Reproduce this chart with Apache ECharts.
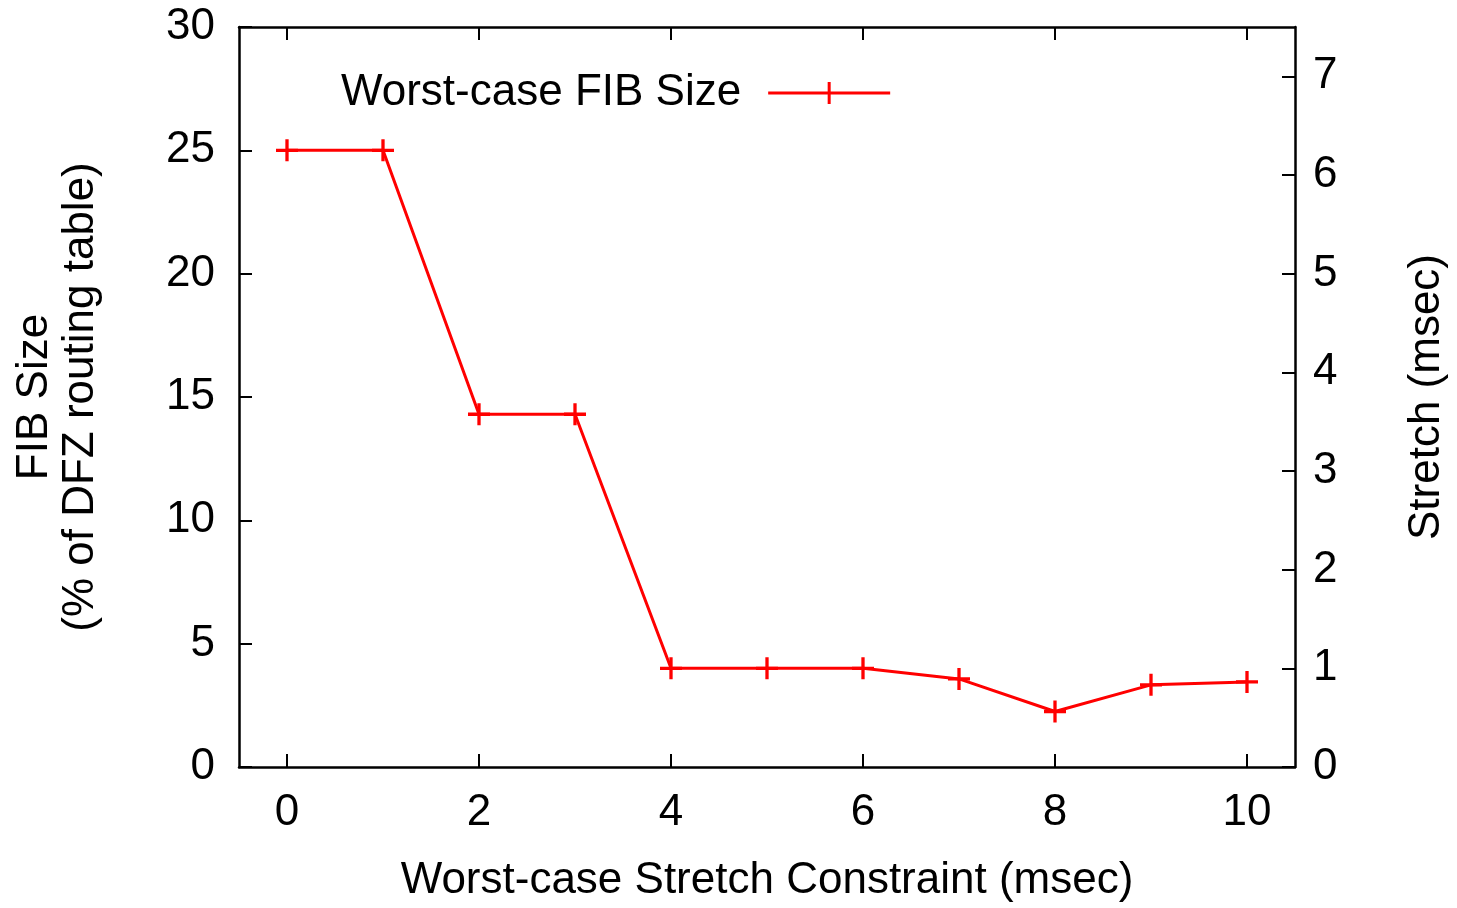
<!DOCTYPE html>
<html>
<head>
<meta charset="utf-8">
<script src="https://cdn.jsdelivr.net/npm/echarts@6/dist/echarts.min.js"></script>
<style>
html,body{margin:0;padding:0;background:#fff;overflow:hidden;width:100%;height:100%;}
#chart{width:100vw;height:100vh;}
</style>
</head>
<body>
<div id="chart"></div>
<script>
// Data
var xValues = [0, 1, 2, 3, 4, 5, 6, 7, 8, 9, 10];
var fibSize = [25, 25, 14.3, 14.3, 4.0, 4.0, 4.0, 3.57, 2.25, 3.33, 3.45];
var xTicks = [0, 2, 4, 6, 8, 10];
var yLeftTicks = [0, 5, 10, 15, 20, 25, 30];
var yRightTicks = [0, 1, 2, 3, 4, 5, 6, 7];
var seriesName = 'Worst-case FIB Size';
var xTitle = 'Worst-case Stretch Constraint (msec)';
var yLeftTitle = 'FIB Size\n(% of DFZ routing table)';
var yRightTitle = 'Stretch (msec)';

var FONT = 'Liberation Sans, Arial, Helvetica, sans-serif';
var FS = 44;
var plusPath = 'path://M-1.5,-10 L1.5,-10 L1.5,10 L-1.5,10 Z M-10,-1.5 L10,-1.5 L10,1.5 L-10,1.5 Z';
var legendIcon = 'path://M0,9.5 L122,9.5 L122,12.5 L0,12.5 Z M59.5,0 L62.5,0 L62.5,22 L59.5,22 Z';

var el = document.getElementById('chart');
var W = el.clientWidth || 1457, H = el.clientHeight || 908;
var sx = W / 1457, sy = H / 908;

var chart = echarts.init(el, null, {renderer: 'canvas'});
var axisLineStyle = {color: '#000', width: 2.5};
var tickStyle = {color: '#000', width: 2};
chart.setOption({
  animation: false,
  backgroundColor: '#fff',
  grid: {left: 239 * sx, top: 27 * sy, width: 1058 * sx, height: 745 * sy, containLabel: false},
  legend: {
    show: true,
    left: 336 * sx,
    top: 66 * sy,
    align: 'right',
    itemWidth: 122,
    itemHeight: 22,
    icon: legendIcon,
    textStyle: {fontFamily: FONT, fontSize: FS, color: '#000', padding: [0, 22, 0, 0]},
    data: [{name: seriesName, icon: legendIcon}]
  },
  xAxis: [{
    type: 'value', position: 'bottom', min: -0.5, max: 10.5,
    splitLine: {show: false},
    axisLine: {show: true, onZero: false, lineStyle: axisLineStyle},
    axisTick: {show: true, inside: true, length: 13, lineStyle: tickStyle, customValues: xTicks},
    axisLabel: {fontFamily: FONT, fontSize: FS, color: '#000', margin: 24 * sy, customValues: xTicks},
    name: xTitle, nameLocation: 'middle', nameGap: 92 * sy,
    nameTextStyle: {fontFamily: FONT, fontSize: FS, color: '#000'}
  }, {
    type: 'value', position: 'top', min: -0.5, max: 10.5,
    splitLine: {show: false},
    axisLine: {show: true, onZero: false, lineStyle: axisLineStyle},
    axisTick: {show: true, inside: true, length: 13, lineStyle: tickStyle, customValues: xTicks},
    axisLabel: {show: false}
  }],
  yAxis: [{
    type: 'value', position: 'left', min: 0, max: 30,
    splitLine: {show: false},
    axisLine: {show: true, onZero: false, lineStyle: axisLineStyle},
    axisTick: {show: true, inside: true, length: 13, lineStyle: tickStyle, customValues: yLeftTicks},
    axisLabel: {fontFamily: FONT, fontSize: FS, color: '#000', margin: 24 * sx, customValues: yLeftTicks},
    name: yLeftTitle, nameLocation: 'middle', nameRotate: 90, nameGap: 135 * sx,
    nameTextStyle: {fontFamily: FONT, fontSize: FS, color: '#000', lineHeight: 46}
  }, {
    type: 'value', position: 'right', min: 0, max: 7.5,
    splitLine: {show: false},
    axisLine: {show: true, onZero: false, lineStyle: axisLineStyle},
    axisTick: {show: true, inside: true, length: 13, lineStyle: tickStyle, customValues: yRightTicks},
    axisLabel: {fontFamily: FONT, fontSize: FS, color: '#000', margin: 18 * sx, customValues: yRightTicks},
    name: yRightTitle, nameLocation: 'middle', nameRotate: 90, nameGap: 110 * sx,
    nameTextStyle: {fontFamily: FONT, fontSize: FS, color: '#000'}
  }],
  series: [{
    name: seriesName,
    type: 'line',
    xAxisIndex: 0, yAxisIndex: 0,
    data: xValues.map(function (x, i) { return [x, fibSize[i]]; }),
    symbol: plusPath,
    symbolSize: 22,
    showAllSymbol: true,
    lineStyle: {color: '#ff0000', width: 3},
    itemStyle: {color: '#ff0000'},
    emphasis: {disabled: true}
  }]
});
</script>
</body>
</html>
